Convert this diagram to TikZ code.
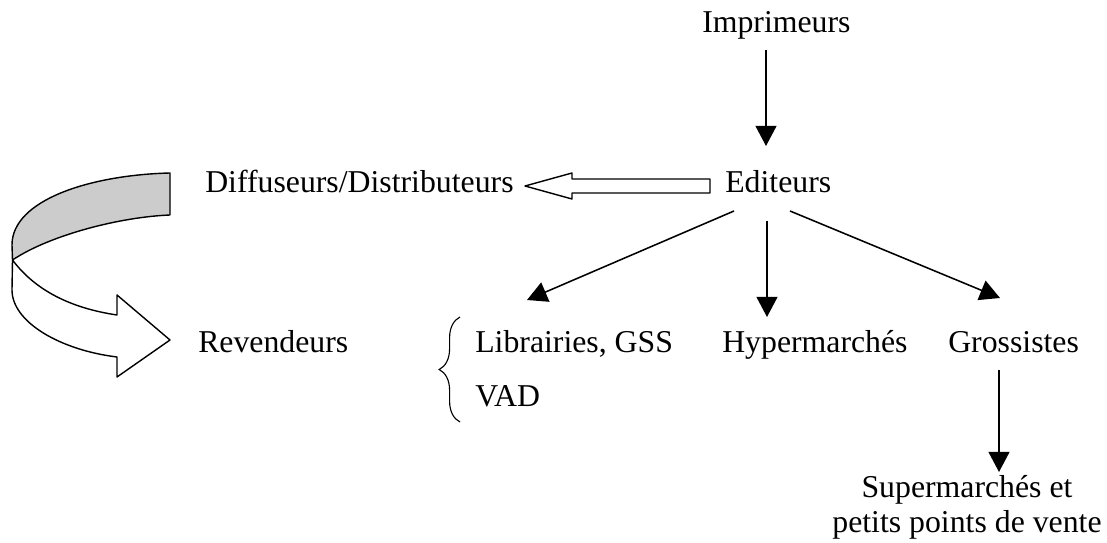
\documentclass[tikz,border=0pt]{standalone}
\usepackage{fontspec}
\setmainfont{Liberation Serif}
\usetikzlibrary{arrows.meta,calc,decorations.pathreplacing}

\begin{document}
\begin{tikzpicture}[x=0.025cm,y=-0.025cm,
                    flow/.style={-{Triangle[length=0.5cm,width=0.52cm]},line width=1.1pt},
                    lbl/.style={inner sep=0pt,anchor=base west,font=\fontsize{22.6}{24.9}\selectfont},
                    band/.style={line width=1pt,line join=round}]

  \useasboundingbox (0,0) rectangle (1107,543);

  	\node[lbl] (imp) at (702,33)  		{Imprimeurs};
	\node[lbl] (edi) at (725,193)  		{Editeurs};
	\node[lbl] (dif) at (205,193)  		{Diffuseurs/Distributeurs};
	\node[lbl] (rev) at (198,353)  		{Revendeurs};
	\node[lbl] (lib) at (475,353)  		{Librairies, GSS};
	\node[lbl] (vad) at (475,407)  		{VAD};
	\node[lbl] (hyp) at (722,353)  		{Hypermarchés};
	\node[lbl] (gro) at (948,353)  		{Grossistes};
	\node[lbl,align=center,anchor=north] (sup) at (967,475)
						{Supermarchés et\\petits points de vente};

  	\draw[flow] ($(imp.base west)+(64,17)$) -- ($(edi.base west)+(41,-47)$);
	\draw[flow] ($(edi.base west)+(9,18)$)  -- ($(lib.base west)+(52,-53)$);
	\draw[flow] ($(edi.base west)+(42,28)$) -- ($(hyp.base west)+(45,-36)$);
	\draw[flow] ($(edi.base west)+(65,18)$) -- ($(gro.base west)+(52,-55)$);
	\draw[flow] ($(gro.base west)+(51,17)$) -- ($(sup.north)+(32,-3)$);

	% editeurs -> diffuseurs
	\draw[band,fill=white] ($(edi.base west)+(-15,-7)$) -- ++(0,-7) -- ++(-138,0) -- ++(0,-6)
		-- ++(-47,13) -- ++(47,13) -- ++(0,-6) -- ++(138,0) -- cycle;

	% diffuseurs -> revendeurs
	\draw[band,fill=white] (12.5,260) .. controls (35,290) and (70,308) .. (117,315)
		-- (117,295) -- (170,340) -- (117,377) -- (117,357)
		.. controls (60,350) and (12,322) .. (12,290) -- cycle;
	\draw[band,fill=gray!40] (170,173) .. controls (90,175) and (12,200) .. (12,245)
		-- (12.5,260) .. controls (50,235) and (120,217) .. (170,215) -- cycle;

	\draw[line width=0.8pt,decorate,decoration={brace,amplitude=0.52cm}]
		($(vad.base west)+(-15,15)$) -- ($(lib.base west)+(-15,-36)$);

\end{tikzpicture}
\end{document}
